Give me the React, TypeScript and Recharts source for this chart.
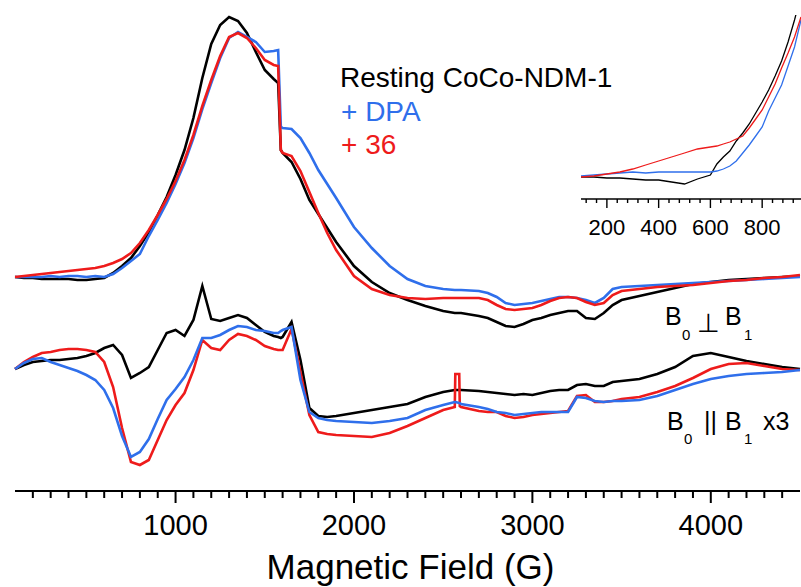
import React from 'react';
import { LineChart, Line, XAxis, YAxis, Label } from 'recharts';

const FONT = "'Liberation Sans', Arial, Helvetica, sans-serif";
const BLACK = '#000000';
const BLUE = '#2F6FEB';
const RED = '#EE1B1B';

// Magnetic field (G)
const fields = [
  100, 150, 200, 250, 300, 350, 400, 450, 500, 550,
  600, 650, 700, 750, 800, 850, 900, 950, 1000, 1050,
  1100, 1150, 1200, 1250, 1300, 1350, 1400, 1450, 1500, 1550,
  1575, 1590, 1600, 1650, 1700, 1750, 1800, 1850, 1900, 2000,
  2100, 2200, 2300, 2400, 2500, 2565, 2568, 2590, 2593, 2600,
  2700, 2750, 2800, 2850, 2900, 2950, 3000, 3050, 3100, 3150,
  3200, 3250, 3300, 3350, 3400, 3450, 3500, 3600, 3700, 3800,
  3900, 4000, 4100, 4200, 4300, 4400, 4500,
];

// B0 ⊥ B1 (offset, arbitrary units)
const perpResting = [
  214, 213, 213, 212, 212, 212, 212, 211, 211, 212,
  213, 218, 225, 233, 245, 259, 276, 294, 316, 341,
  373, 413, 447, 466, 474, 470, 458, 439, 421, 412,
  408, 341, 338, 329, 312, 291, 277, 263, 249, 225,
  209, 198, 191, 185, 180, 178, 178, 178, 178, 178,
  175, 173, 169, 165, 164, 167, 171, 173, 176, 178,
  180, 180, 173, 172, 178, 186, 191, 195, 199, 203,
  207, 209, 211, 212, 213, 214, 215,
];
const perpDPA = [
  214, 214, 214, 214, 215, 214, 215, 215, 214, 215,
  214, 217, 223, 230, 237, 255, 271, 288, 307, 328,
  353, 382, 408, 433, 453, 459, 454, 449, 439, 440,
  441, 364, 363, 362, 353, 338, 321, 307, 293, 264,
  243, 225, 212, 205, 202, 201, 201, 201, 201, 201,
  200, 198, 194, 188, 186, 187, 188, 190, 192, 194,
  194, 193, 191, 188, 193, 202, 204, 205, 206, 207,
  208, 209, 210, 211, 212, 213, 214,
];
const perp36 = [
  214, 215, 216, 217, 218, 219, 220, 221, 222, 223,
  225, 228, 232, 238, 248, 261, 276, 292, 310, 331,
  356, 385, 411, 435, 454, 458, 453, 443, 431, 426,
  425, 341, 338, 335, 320, 299, 278, 258, 241, 215,
  202, 196, 193, 192, 193, 193, 193, 193, 193, 193,
  193, 191, 186, 182, 181, 182, 183, 186, 190, 193,
  194, 193, 189, 186, 188, 196, 200, 202, 204, 205,
  206, 208, 210, 211, 213, 214, 216,
];

// B0 || B1 x3 (offset, arbitrary units)
const parResting = [
  122, 126, 129, 130, 131, 131, 132, 133, 135, 138,
  143, 146, 136, 113, 118, 124, 141, 158, 161, 155,
  171, 205, 172, 170, 173, 176, 173, 166, 159, 155,
  154, 153, 154, 169, 131, 83, 75, 74, 75, 78,
  81, 84, 87, 94, 99, 101, 101, 101, 101, 101,
  100, 99, 98, 97, 96, 97, 96, 98, 100, 101,
  101, 106, 107, 105, 105, 109, 110, 112, 117, 124,
  135, 138, 134, 130, 127, 124, 122,
];
const parDPA = [
  122, 128, 132, 133, 129, 126, 123, 120, 116, 111,
  101, 83, 55, 34, 39, 52, 72, 91, 102, 114,
  131, 153, 153, 156, 161, 165, 164, 161, 160, 158,
  158, 160, 161, 164, 111, 79, 73, 71, 70, 69,
  68, 70, 73, 81, 86, 89, 89, 88, 88, 87,
  84, 82, 79, 78, 76, 77, 78, 79, 79, 79,
  79, 94, 93, 90, 89, 90, 90, 91, 95, 101,
  107, 112, 115, 117, 118, 119, 121,
];
const par36 = [
  122, 129, 134, 138, 139, 141, 142, 142, 141, 139,
  129, 104, 63, 29, 26, 31, 51, 71, 86, 98,
  121, 151, 143, 141, 151, 157, 155, 151, 145, 142,
  141, 141, 141, 162, 119, 76, 59, 57, 56, 55,
  54, 58, 65, 73, 81, 84, 117, 117, 85, 84,
  80, 79, 79, 75, 73, 74, 76, 77, 78, 79,
  80, 95, 96, 89, 89, 90, 92, 94, 99, 105,
  113, 122, 127, 128, 125, 122, 121,
];

// Inset (low-field region)
const insetFields = [
  100, 150, 200, 250, 300, 350, 400, 450, 500, 550,
  600, 625, 650, 675, 700, 725, 750, 775, 800, 825,
  850, 875, 900, 925, 950,
];
const insetResting = [
  22, 22, 21, 21, 20, 19, 19, 17, 15, 20,
  24, 35, 42, 48, 58, 66, 75, 86, 97, 109,
  123, 138, 157, 179, 204,
];
const insetDPA = [
  23, 24, 25, 26, 27, 26, 27, 27, 27, 27,
  27, 28, 30, 33, 38, 46, 54, 63, 72, 88,
  101, 114, 133, 152, 179,
];
const insetDrug = [
  22, 23, 25, 27, 30, 34, 38, 42, 46, 50,
  52, 53, 55, 57, 60, 63, 71, 80, 89, 102,
  115, 131, 146, 162, 182,
];

// Tick labels
const mainMajorTicks = [1000, 2000, 3000, 4000];
const mainTicks = Array.from({ length: 43 }, (_, i) => 200 + i * 100);
const insetMajorTicks = [200, 400, 600, 800];
const insetTicks = Array.from({ length: 21 }, (_, i) => 120 + i * 40);

const mainData = fields.map((f, i) => ({
  field: f,
  perpResting: perpResting[i],
  perpDPA: perpDPA[i],
  perp36: perp36[i],
  parResting: parResting[i],
  parDPA: parDPA[i],
  par36: par36[i],
}));

const insetData = insetFields.map((f, i) => ({
  field: f,
  resting: insetResting[i],
  dpa: insetDPA[i],
  drug: insetDrug[i],
}));

const MainTick = (props: any) => {
  const { x, y, payload } = props;
  const major = mainMajorTicks.includes(payload.value);
  return (
    <g>
      <line x1={x} x2={x} y1={y} y2={y + (major ? 12 : 7)} stroke={BLACK} strokeWidth={2} />
      {major && (
        <text x={x} y={y + 44} textAnchor="middle" fontSize={29} fontFamily={FONT} fill={BLACK}>
          {payload.value}
        </text>
      )}
    </g>
  );
};

const InsetTick = (props: any) => {
  const { x, y, payload } = props;
  const major = insetMajorTicks.includes(payload.value);
  return (
    <g>
      <line x1={x} x2={x} y1={y} y2={y + (major ? 9 : 4)} stroke={BLACK} strokeWidth={1.4} />
      {major && (
        <text x={x} y={y + 36} textAnchor="middle" fontSize={22} fontFamily={FONT} fill={BLACK}>
          {payload.value}
        </text>
      )}
    </g>
  );
};

export default function App() {
  const lw = 2.6;
  return (
    <div style={{ position: 'absolute', left: 0, top: 0, width: 801, height: 587, background: '#fff' }}>
      <LineChart width={801} height={587} data={mainData} margin={{ top: 0, right: 1, bottom: 0, left: 15 }}>
        <XAxis
          dataKey="field"
          type="number"
          domain={[100, 4500]}
          ticks={mainTicks}
          interval={0}
          tickSize={0}
          tickMargin={0}
          tickLine={false}
          tick={(p: any) => <MainTick {...p} />}
          height={96}
          axisLine={{ stroke: BLACK, strokeWidth: 2 }}
        >
          <Label
            value="Magnetic Field (G)"
            position="insideBottom"
            offset={8}
            dx={3}
            fontSize={35}
            fontFamily={FONT}
            fill={BLACK}
          />
        </XAxis>
        <YAxis hide domain={[0, 491]} />
        <Line type="linear" dataKey="perpResting" stroke={BLACK} strokeWidth={lw} dot={false} isAnimationActive={false} />
        <Line type="linear" dataKey="perpDPA" stroke={BLUE} strokeWidth={lw} dot={false} isAnimationActive={false} />
        <Line type="linear" dataKey="perp36" stroke={RED} strokeWidth={lw} dot={false} isAnimationActive={false} />
        <Line type="linear" dataKey="parResting" stroke={BLACK} strokeWidth={lw} dot={false} isAnimationActive={false} />
        <Line type="linear" dataKey="par36" stroke={RED} strokeWidth={lw} dot={false} isAnimationActive={false} />
        <Line type="linear" dataKey="parDPA" stroke={BLUE} strokeWidth={lw} dot={false} isAnimationActive={false} />
      </LineChart>

      <div style={{ position: 'absolute', left: 571, top: 0 }}>
        <LineChart width={230} height={239} data={insetData} margin={{ top: 15, right: 0, bottom: 0, left: 10 }}>
          <XAxis
            dataKey="field"
            type="number"
            domain={[100, 950]}
            ticks={insetTicks}
            interval={0}
            tickSize={0}
            tickMargin={0}
            tickLine={false}
            tick={(p: any) => <InsetTick {...p} />}
            height={40}
            axisLine={{ stroke: BLACK, strokeWidth: 1.4 }}
          />
          <YAxis hide domain={[0, 184]} allowDataOverflow />
          <Line type="linear" dataKey="resting" stroke={BLACK} strokeWidth={1.3} dot={false} isAnimationActive={false} />
          <Line type="linear" dataKey="dpa" stroke={BLUE} strokeWidth={1.3} dot={false} isAnimationActive={false} />
          <Line type="linear" dataKey="drug" stroke={RED} strokeWidth={1.3} dot={false} isAnimationActive={false} />
        </LineChart>
      </div>

      <svg
        width={801}
        height={587}
        style={{ position: 'absolute', left: 0, top: 0, pointerEvents: 'none' }}
        fontFamily={FONT}
      >
        <text x={340} y={87} fontSize={28} fill={BLACK}>Resting CoCo-NDM-1</text>
        <text x={341} y={121} fontSize={28} fill={BLUE}>+ DPA</text>
        <text x={341} y={154} fontSize={28} fill={RED}>+ 36</text>

        <text x={665} y={325} fontSize={25} fill={BLACK}>B</text>
        <text x={682} y={340} fontSize={15} fill={BLACK}>0</text>
        <text x={697} y={332} fontSize={26} fill={BLACK}>⊥</text>
        <text x={725} y={325} fontSize={25} fill={BLACK}>B</text>
        <text x={744} y={340} fontSize={15} fill={BLACK}>1</text>

        <text x={667} y={430} fontSize={25} fill={BLACK}>B</text>
        <text x={684} y={444} fontSize={15} fill={BLACK}>0</text>
        <text x={704} y={430} fontSize={25} fill={BLACK}>||</text>
        <text x={725} y={430} fontSize={25} fill={BLACK}>B</text>
        <text x={744} y={444} fontSize={15} fill={BLACK}>1</text>
        <text x={763} y={430} fontSize={25} fill={BLACK}>x3</text>
      </svg>
    </div>
  );
}
